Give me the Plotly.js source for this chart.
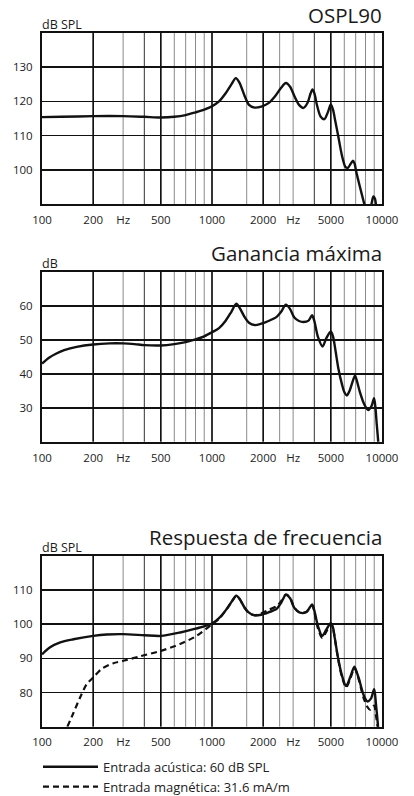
<!DOCTYPE html>
<html>
<head>
<meta charset="utf-8">
<script src="https://cdn.plot.ly/plotly-3.0.1.min.js"></script>
<style>html,body{margin:0;padding:0;background:#fff;}#chart{width:414px;height:796px;}</style>
</head>
<body>
<div id="chart"></div>
<script>
// ---- Data ----
const titles = ['OSPL90', 'Ganancia máxima', 'Respuesta de frecuencia'];
const unitLabels = ['dB SPL', 'dB', 'dB SPL'];
const xTickVals = [100, 200, 300, 500, 1000, 2000, 3000, 5000, 10000];
const xTickText = ['100', '200', 'Hz', '500', '1000', '2000', 'Hz', '5000', '10000'];
const yRanges = [[90, 140], [20, 70], [70, 120]];
const yTicks = [[100, 110, 120, 130], [30, 40, 50, 60], [80, 90, 100, 110]];
const gridMajor = [200, 500, 1000, 2000, 5000];
const gridMid = [400, 4000];
const gridMinor = [300, 600, 700, 800, 900, 1600, 2500, 3000, 6000, 7000, 8000, 9000];

const osplFreq = [100,130,200,300,400,500,600,700,800,900,1000,1100,1200,1300,1380,1450,1550,1650,1780,1950,2150,2350,2550,2720,2880,3050,3250,3450,3650,3800,3900,4000,4150,4350,4580,4800,5000,5150,5300,5530,5830,6100,6300,6550,6750,6900,7050,7450,7850,8100,8400,8650,8900,9100,9300,9500];
const osplVal  = [115.4,115.5,115.7,115.7,115.5,115.3,115.5,116.0,116.8,117.6,118.6,120.0,122.3,125.0,126.8,125.5,121.8,119.0,118.2,118.5,119.5,121.5,124.0,125.4,124.3,121.6,119.0,118.1,119.6,122.3,123.5,122.4,118.8,115.6,114.8,116.8,119.1,117.6,114.5,109.8,103.9,100.8,100.6,101.8,102.7,101.8,99.5,94.6,90.2,88.0,88.0,89.8,92.2,91.5,88.0,85.0];

const gainFreq = [100,110,120,135,160,200,250,300,350,400,500,600,700,800,900,1000,1100,1200,1300,1390,1460,1550,1650,1780,1950,2150,2400,2550,2720,2880,3050,3250,3450,3700,3880,4000,4200,4470,4700,5000,5150,5300,5530,5820,6000,6210,6450,6700,6940,7150,7430,7860,8300,8680,8980,9150,9300,9450,9600];
const gainVal  = [43.0,44.7,45.8,46.9,47.9,48.6,48.9,48.9,48.7,48.4,48.3,48.7,49.3,50.1,51.0,52.2,53.4,55.5,58.2,60.6,59.2,56.8,55.0,54.3,54.7,55.5,56.7,58.2,60.3,59.0,56.5,55.5,55.2,55.6,57.2,55.5,50.8,48.0,50.4,52.4,51.0,47.5,41.7,36.8,34.6,33.6,35.0,37.5,39.5,37.5,34.4,31.0,29.3,30.5,32.8,30.0,25.5,21.5,17.0];

const acuFreq = [100,111,128,153,200,240,300,400,500,650,800,1000,1100,1200,1300,1390,1460,1550,1650,1780,1950,2150,2400,2550,2720,2880,3050,3290,3600,3880,4000,4200,4450,4700,5000,5150,5270,5530,5820,6150,6500,6880,7100,7330,7780,8200,8610,8980,9100,9200,9420,9550];
const acuVal  = [91.2,93.2,94.7,95.6,96.6,97.0,97.1,96.8,96.6,97.6,98.7,100.2,101.8,104.0,106.5,108.4,107.3,105.0,103.4,102.6,102.8,103.5,104.5,106.3,108.6,107.6,104.8,103.4,103.6,105.8,104.0,99.5,96.6,98.4,100.4,99.0,96.1,89.8,84.9,81.9,84.5,87.6,86.0,83.9,79.4,77.4,78.2,81.0,79.5,77.0,71.6,68.0];

const magFreq = [141,153,167,183,200,224,263,301,377,500,648,812,1000,1100,1200,1300,1390,1460,1550,1650,1780,1950,2150,2400,2550,2720,2880,3050,3290,3600,3880,4000,4200,4450,4700,5000,5150,5270,5530,5820,6150,6500,6880,7100,7330,7780,8200,8500,8800,9000,9200,9400,9550];
const magVal  = [70.0,74.0,78.4,82.4,84.4,86.9,88.6,89.3,90.6,92.2,94.2,96.6,100.0,101.6,103.9,106.4,108.3,107.2,104.9,103.3,102.7,103.2,104.2,105.3,106.8,108.8,107.8,104.9,103.4,103.7,105.5,103.5,98.8,96.0,97.8,100.2,98.8,96.0,89.6,84.5,81.5,84.0,87.2,85.8,83.5,78.5,75.8,75.0,75.8,76.2,73.5,70.5,68.0];

const legendNames = ['Entrada acústica: 60 dB SPL', 'Entrada magnética: 31.6 mA/m'];

// ---- Layout / styles ----
const FONT = 'Open Sans, Noto Sans, sans-serif';
const domains = [[0.7437, 0.9585], [0.4451, 0.6587], [0.0871, 0.3015]];
const suffix = ['', '2', '3'];
const titleShift = [2, 3, 3];

const traces = [
  {x: osplFreq, y: osplVal, xaxis: 'x', yaxis: 'y', mode: 'lines', showlegend: false,
   line: {color: '#111', width: 2.4, shape: 'spline', smoothing: 0.8}},
  {x: gainFreq, y: gainVal, xaxis: 'x2', yaxis: 'y2', mode: 'lines', showlegend: false,
   line: {color: '#111', width: 2.4, shape: 'spline', smoothing: 0.8}},
  {x: magFreq, y: magVal, xaxis: 'x3', yaxis: 'y3', mode: 'lines', name: legendNames[1],
   line: {color: '#111', width: 2.2, dash: '6px,4px', shape: 'spline', smoothing: 0.8}},
  {x: acuFreq, y: acuVal, xaxis: 'x3', yaxis: 'y3', mode: 'lines', name: legendNames[0],
   line: {color: '#111', width: 2.4, shape: 'spline', smoothing: 0.8}}
];

const layout = {
  width: 414, height: 796,
  margin: {l: 42, r: 32, t: 0, b: 0, autoexpand: false},
  paper_bgcolor: '#fff', plot_bgcolor: '#fff',
  font: {family: FONT, color: '#1a1a1a', size: 11},
  showlegend: true,
  legend: {x: -0.0118, y: 0.0555, xanchor: 'left', yanchor: 'top', traceorder: 'reversed',
           font: {family: FONT, size: 13, color: '#222'}, bgcolor: 'rgba(0,0,0,0)', itemwidth: 55},
  shapes: [], annotations: []
};

for (let i = 0; i < 3; i++) {
  const s = suffix[i];
  layout['xaxis' + s] = {
    type: 'log', range: [2, 4], anchor: 'y' + s, domain: [0, 1],
    tickmode: 'array', tickvals: xTickVals, ticktext: xTickText,
    showgrid: false, zeroline: false, ticks: '', ticklabelstandoff: 4,
    showline: true, mirror: true, linecolor: '#111', linewidth: 2,
    tickfont: {family: FONT, size: 11.5, color: '#222'}, fixedrange: true, automargin: false
  };
  layout['yaxis' + s] = {
    range: yRanges[i], anchor: 'x' + s, domain: domains[i],
    tickmode: 'array', tickvals: yTicks[i],
    showgrid: true, gridcolor: '#111', gridwidth: 1.7, zeroline: false, ticks: '', ticklabelstandoff: 5,
    showline: true, mirror: true, linecolor: '#111', linewidth: 2,
    tickfont: {family: FONT, size: 11.5, color: '#222'}, fixedrange: true, automargin: false
  };
  const addLines = (vals, color, width) => vals.forEach(v => layout.shapes.push({
    type: 'line', xref: 'x' + s, yref: 'y' + s + ' domain', x0: v, x1: v, y0: 0, y1: 1,
    layer: 'below', line: {color: color, width: width}
  }));
  addLines(gridMinor, '#8a8a8a', 1);
  addLines(gridMid, '#444', 1.1);
  addLines(gridMajor, '#111', 1.7);

  layout.annotations.push({
    text: titles[i], xref: 'x' + s + ' domain', yref: 'y' + s + ' domain', x: 1, y: 1,
    xanchor: 'right', yanchor: 'bottom', yshift: titleShift[i], xshift: 2, showarrow: false,
    font: {family: FONT, size: 20.5, color: '#1a1a1a'}
  });
  layout.annotations.push({
    text: unitLabels[i], xref: 'x' + s + ' domain', yref: 'y' + s + ' domain', x: 0, y: 1,
    xanchor: 'left', yanchor: 'bottom', yshift: -2, xshift: -2, showarrow: false,
    font: {family: FONT, size: 12.5, color: '#1a1a1a'}
  });
}

Plotly.newPlot('chart', traces, layout, {displayModeBar: false, staticPlot: true});
</script>
</body>
</html>
